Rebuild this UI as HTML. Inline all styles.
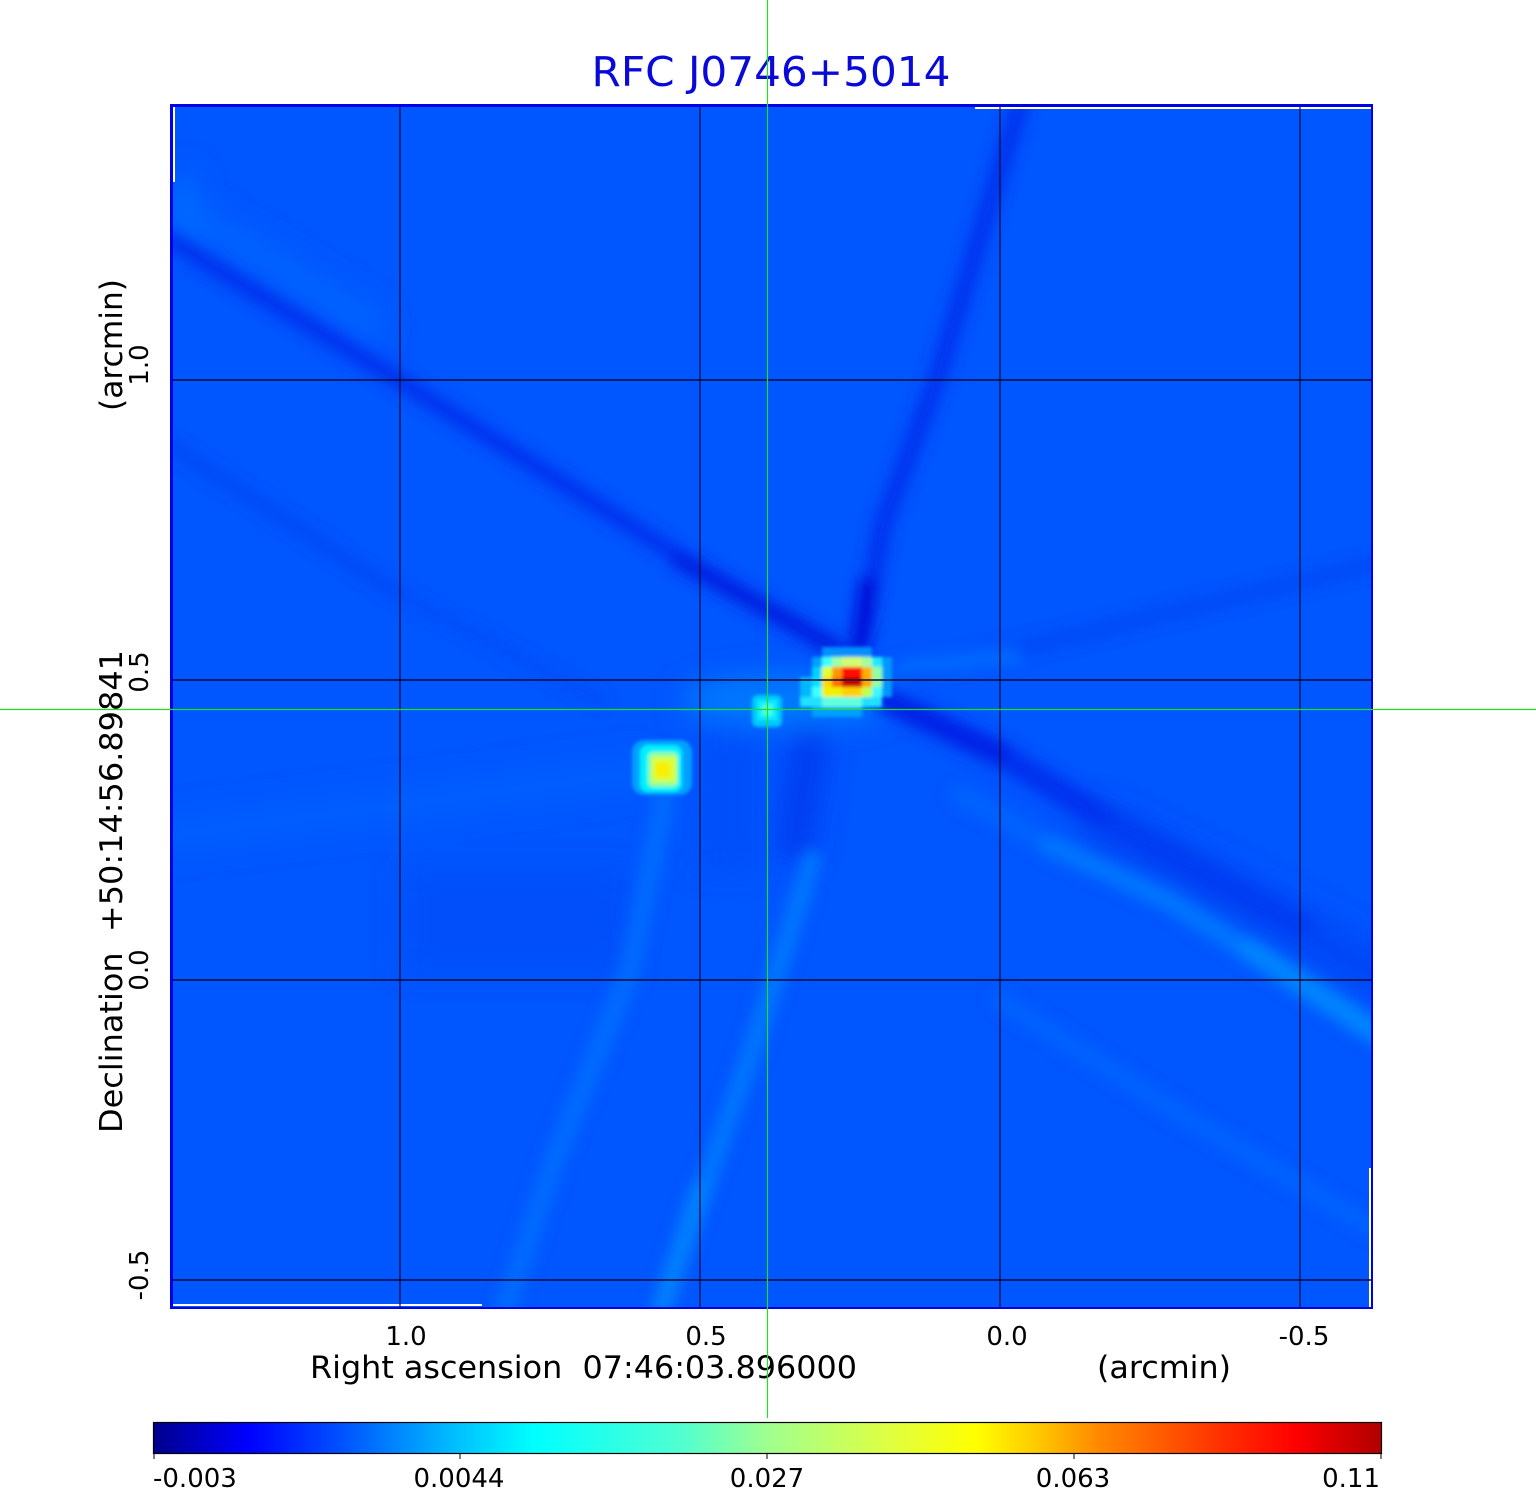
<!DOCTYPE html>
<html><head><meta charset="utf-8"><style>
html,body{margin:0;padding:0;background:#fff;}
svg{display:block;}
text{font-family:"DejaVu Sans","Liberation Sans",sans-serif;white-space:pre;}
</style></head><body>
<svg width="1536" height="1511" viewBox="0 0 1536 1511" xmlns="http://www.w3.org/2000/svg" xml:space="preserve">
<defs>
  <clipPath id="c"><rect x="173" y="107" width="1198" height="1200"/></clipPath>
  <filter id="b7" filterUnits="userSpaceOnUse" x="0" y="0" width="1536" height="1511"><feGaussianBlur stdDeviation="7"/></filter>
  <filter id="b12" filterUnits="userSpaceOnUse" x="0" y="0" width="1536" height="1511"><feGaussianBlur stdDeviation="14"/></filter>
  <filter id="b1" filterUnits="userSpaceOnUse" x="0" y="0" width="1536" height="1511"><feGaussianBlur stdDeviation="1.5"/></filter>
  <linearGradient id="jet" x1="0" y1="0" x2="1" y2="0">
    <stop offset="0" stop-color="#00008c"/>
    <stop offset="0.077" stop-color="#0000ff"/>
    <stop offset="0.152" stop-color="#0050ff"/>
    <stop offset="0.247" stop-color="#00c0ff"/>
    <stop offset="0.31" stop-color="#00ffff"/>
    <stop offset="0.43" stop-color="#50ffd0"/>
    <stop offset="0.5" stop-color="#a0ff90"/>
    <stop offset="0.6" stop-color="#e0ff40"/>
    <stop offset="0.67" stop-color="#ffff00"/>
    <stop offset="0.72" stop-color="#ffc800"/>
    <stop offset="0.77" stop-color="#ff8800"/>
    <stop offset="0.87" stop-color="#ff3000"/>
    <stop offset="0.93" stop-color="#ff0000"/>
    <stop offset="1" stop-color="#b00000"/>
  </linearGradient>
</defs>

<!-- frame -->
<rect x="170" y="104" width="1203" height="1205" fill="#0000e6"/>
<g clip-path="url(#c)">
  <rect x="170" y="103" width="1203" height="1206" fill="#0056ff"/>
  <!-- broad tonal variations -->
  <g filter="url(#b12)" fill="none" stroke-linecap="round">
    <polyline points="170,205 280,270 370,325" stroke="#0068ff" stroke-width="34" opacity="0.7"/>
    <polyline points="170,835 400,805 640,772" stroke="#0066ff" stroke-width="34" opacity="0.6"/>
    <ellipse cx="790" cy="700" rx="110" ry="26" fill="#0082ff" stroke="none" opacity="0.8"/>
    <rect x="400" y="870" width="230" height="100" fill="#004cf6" stroke="none" opacity="0.6"/>
    <rect x="700" y="730" width="60" height="140" fill="#004cf6" stroke="none" opacity="0.6"/>
    <polyline points="185,180 185,240" stroke="#0070ff" stroke-width="22" opacity="0.7"/>
    <polyline points="1100,830 1250,905 1380,975" stroke="#0044f4" stroke-width="50" opacity="0.7"/>
    <polyline points="810,740 795,845" stroke="#0036ee" stroke-width="34" opacity="0.9"/>
  </g>
  <!-- streaks -->
  <g filter="url(#b7)" fill="none" stroke-linecap="round" stroke-linejoin="round">
    <!-- dark diagonal A -->
    <polyline points="170,240 400,381 707,574 835,646" stroke="#0030ee" stroke-width="17"/>
    <polyline points="680,560 760,605 838,650" stroke="#0020e2" stroke-width="19"/>
    <!-- faint dark C -->
    <polyline points="170,445 400,595" stroke="#0044f4" stroke-width="12" opacity="0.8"/>
    <polyline points="400,595 600,700" stroke="#0048f6" stroke-width="12" opacity="0.5"/>
    <!-- dark near-vertical B -->
    <polyline points="1021,100 937,379 883,524 860,646" stroke="#0030ee" stroke-width="18"/>
    <polyline points="868,585 860,646" stroke="#0010d8" stroke-width="18"/>
    <!-- dark D lower right -->
    <polyline points="885,700 1000,755 1100,815" stroke="#0032ee" stroke-width="26"/>
    <polyline points="1100,815 1200,870 1300,925" stroke="#0038f0" stroke-width="26" opacity="0.7"/>
    <polyline points="885,700 1000,752" stroke="#0024e6" stroke-width="22"/>
    <!-- faint dark I right -->
    <polyline points="905,672 1014,650 1380,563" stroke="#0042f2" stroke-width="14" opacity="0.7"/>
    <!-- light streaks -->
    <polyline points="812,860 753,1048 661,1310" stroke="#0076ff" stroke-width="20"/>
    <polyline points="700,1190 661,1310" stroke="#0080ff" stroke-width="20"/>
    <polyline points="665,795 630,971 553,1164 505,1310" stroke="#006eff" stroke-width="22" opacity="0.85"/>
    <polyline points="960,795 1050,845" stroke="#0068ff" stroke-width="20" opacity="0.7"/>
    <polyline points="1050,845 1167,900 1282,971 1380,1035" stroke="#0074ff" stroke-width="22"/>
    <polyline points="1250,950 1380,1035" stroke="#0084ff" stroke-width="24"/>
    <polyline points="1000,1000 1167,1106 1380,1232" stroke="#006aff" stroke-width="18" opacity="0.7"/>
    <polyline points="900,668 1014,656" stroke="#006cff" stroke-width="14"/>
  </g>
  <!-- sources -->
  <g filter="url(#b1)">
    <!-- S3 -->
    <rect x="632" y="740" width="60" height="55" rx="12" fill="#00a0ff"/>
    <rect x="640" y="745" width="42" height="47" rx="8" fill="#00f0ff"/>
    <rect x="648" y="752" width="30" height="35" rx="5" fill="#90ffa0"/>
    <rect x="652" y="757" width="24" height="25" fill="#d8ff40"/>
    <rect x="655" y="762" width="15" height="15" fill="#f8f000"/>
    <!-- S2 -->
    <rect x="752" y="695" width="30" height="32" rx="6" fill="#00c8ff"/>
    <rect x="757" y="700" width="20" height="20" fill="#10ecff"/>
    <rect x="762" y="705" width="10" height="10" fill="#50ffd8"/>
    <!-- S1 -->
    <rect x="822" y="647" width="50" height="10" fill="#0090ff"/>
    <rect x="812" y="707" width="50" height="10" fill="#00a0ff"/>
    <rect x="800" y="697" width="82" height="10" fill="#20e0ff"/>
    <rect x="822" y="697" width="40" height="10" fill="#60ffe0"/>
    <rect x="800" y="677" width="12" height="20" fill="#00b8ff"/>
    <rect x="812" y="657" width="10" height="10" fill="#00a0ff"/>
    <rect x="822" y="657" width="10" height="10" fill="#40ffff"/>
    <rect x="832" y="657" width="10" height="10" fill="#a0ffa0"/>
    <rect x="842" y="657" width="20" height="10" fill="#d0ff70"/>
    <rect x="862" y="657" width="10" height="10" fill="#a0ffa0"/>
    <rect x="872" y="657" width="10" height="10" fill="#20e8ff"/>
    <rect x="882" y="657" width="10" height="40" fill="#0098ff"/>
    <rect x="812" y="667" width="10" height="10" fill="#00d0ff"/>
    <rect x="822" y="667" width="10" height="10" fill="#e0ff30"/>
    <rect x="832" y="667" width="10" height="10" fill="#ff9800"/>
    <rect x="842" y="667" width="20" height="10" fill="#ff1000"/>
    <rect x="862" y="667" width="10" height="10" fill="#ffb000"/>
    <rect x="872" y="667" width="10" height="20" fill="#90ffa0"/>
    <rect x="812" y="677" width="10" height="10" fill="#00e0ff"/>
    <rect x="822" y="677" width="10" height="10" fill="#ffd800"/>
    <rect x="832" y="677" width="10" height="10" fill="#ff7000"/>
    <rect x="842" y="677" width="20" height="10" fill="#c80000"/>
    <rect x="862" y="677" width="10" height="10" fill="#ffa800"/>
    <rect x="812" y="687" width="10" height="10" fill="#40ffff"/>
    <rect x="822" y="687" width="20" height="10" fill="#f0f000"/>
    <rect x="842" y="687" width="20" height="10" fill="#ffd000"/>
    <rect x="862" y="687" width="10" height="10" fill="#c0ff50"/>
    <rect x="872" y="687" width="10" height="10" fill="#40f8ff"/>
  </g>
  <!-- white edge artifacts -->
  <rect x="975" y="107" width="396" height="2" fill="#ffffff"/>
  <rect x="173" y="107" width="2" height="75" fill="#ffffff"/>
  <rect x="1369" y="1168" width="2" height="139" fill="#ffffff"/>
  <rect x="173" y="1304" width="309" height="2" fill="#ffffff"/>
  <!-- grid -->
  <g stroke="#0a0a30" stroke-width="1.2">
    <line x1="400" y1="103" x2="400" y2="1309"/>
    <line x1="700" y1="103" x2="700" y2="1309"/>
    <line x1="1000" y1="103" x2="1000" y2="1309"/>
    <line x1="1300" y1="103" x2="1300" y2="1309"/>
  </g>
  <g stroke="#0a0a30" stroke-width="1.6">
    <line x1="170" y1="380" x2="1373" y2="380"/>
    <line x1="170" y1="680" x2="1373" y2="680"/>
    <line x1="170" y1="980" x2="1373" y2="980"/>
    <line x1="170" y1="1280" x2="1373" y2="1280"/>
  </g>
</g>

<!-- title -->
<text x="771" y="86" font-size="41" fill="#0a0ad8" text-anchor="middle" textLength="359" lengthAdjust="spacingAndGlyphs">RFC J0746+5014</text>

<!-- x tick labels -->
<g font-size="26" fill="#000" text-anchor="middle">
  <text x="406" y="1345">1.0</text>
  <text x="706" y="1345">0.5</text>
  <text x="1007" y="1345">0.0</text>
  <text x="1304" y="1345">-0.5</text>
</g>
<text x="310" y="1378" font-size="31" fill="#000" textLength="547" lengthAdjust="spacingAndGlyphs">Right ascension  07:46:03.896000</text>
<text x="1097" y="1378" font-size="31" fill="#000" textLength="134" lengthAdjust="spacingAndGlyphs">(arcmin)</text>

<!-- y tick labels -->
<g font-size="26" fill="#000" text-anchor="middle">
  <text transform="translate(148,365) rotate(-90)">1.0</text>
  <text transform="translate(148,672) rotate(-90)">0.5</text>
  <text transform="translate(148,970) rotate(-90)">0.0</text>
  <text transform="translate(148,1275) rotate(-90)">-0.5</text>
</g>
<text transform="translate(122,1133) rotate(-90)" font-size="31" fill="#000" textLength="483" lengthAdjust="spacingAndGlyphs">Declination  +50:14:56.89841</text>
<text transform="translate(122,411) rotate(-90)" font-size="31" fill="#000" textLength="132" lengthAdjust="spacingAndGlyphs">(arcmin)</text>

<!-- crosshair -->
<line x1="767.5" y1="0" x2="767.5" y2="1418" stroke="#22dd22" stroke-width="1.2"/>
<line x1="0" y1="709.5" x2="1536" y2="709.5" stroke="#22dd22" stroke-width="1.2"/>

<!-- colorbar -->
<rect x="153.5" y="1422.5" width="1228" height="31" fill="url(#jet)" stroke="#000" stroke-width="1.2"/>
<g stroke="#000" stroke-width="1">
  <line x1="154" y1="1454" x2="154" y2="1459"/>
  <line x1="460" y1="1454" x2="460" y2="1459"/>
  <line x1="767" y1="1454" x2="767" y2="1459"/>
  <line x1="1074" y1="1454" x2="1074" y2="1459"/>
  <line x1="1381" y1="1454" x2="1381" y2="1459"/>
</g>
<g font-size="26" fill="#000">
  <text x="153" y="1487">-0.003</text>
  <text x="459" y="1487" text-anchor="middle">0.0044</text>
  <text x="767" y="1487" text-anchor="middle">0.027</text>
  <text x="1073" y="1487" text-anchor="middle">0.063</text>
  <text x="1380" y="1487" text-anchor="end">0.11</text>
</g>
</svg>
</body></html>
